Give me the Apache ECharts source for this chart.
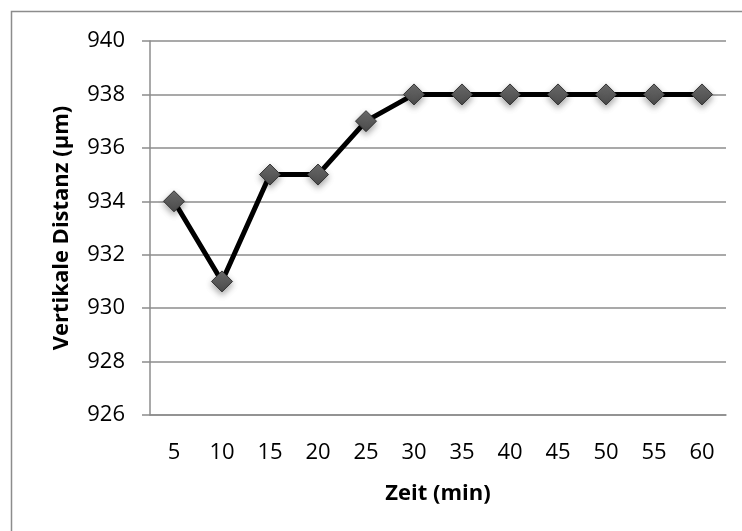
<!DOCTYPE html>
<html>
<head>
<meta charset="utf-8">
<script src="https://cdn.jsdelivr.net/npm/echarts@6/dist/echarts.min.js"></script>
<style>
  html, body { margin: 0; padding: 0; background: #fff; }
  #chart { width: 742px; height: 531px; }
</style>
</head>
<body>
<div id="chart"></div>
<script>
const zeit = ['5', '10', '15', '20', '25', '30', '35', '40', '45', '50', '55', '60'];
const distanz = [934, 931, 935, 935, 937, 938, 938, 938, 938, 938, 938, 938];
const yMin = 926, yMax = 940, yStep = 2;

const font = '"Open Sans", "Noto Sans", sans-serif';
const chart = echarts.init(document.getElementById('chart'), null, { renderer: 'canvas' });

chart.setOption({
  backgroundColor: '#fff',
  animation: false,
  textStyle: { fontFamily: font },
  graphic: [{
    type: 'rect',
    shape: { x: 11.5, y: 11.5, width: 740, height: 530 },
    style: { fill: 'none', stroke: '#8c8c8c', lineWidth: 1.5 },
    silent: true
  }],
  grid: { left: 150, right: 16, top: 41, bottom: 116, containLabel: false },
  xAxis: {
    type: 'category',
    data: zeit,
    boundaryGap: true,
    name: 'Zeit (min)',
    nameLocation: 'middle',
    nameGap: 68,
    nameTextStyle: { fontWeight: 'bold', fontSize: 22, color: '#000', fontFamily: font },
    axisLine: { lineStyle: { color: '#8c8c8c', width: 1.5 } },
    axisTick: { show: false },
    axisLabel: { color: '#000', fontSize: 22, margin: 27, fontFamily: font },
    splitLine: { show: false }
  },
  yAxis: {
    type: 'value',
    min: yMin,
    max: yMax,
    interval: yStep,
    name: 'Vertikale Distanz (µm)',
    nameLocation: 'middle',
    nameGap: 77,
    nameTextStyle: { fontWeight: 'bold', fontSize: 22, color: '#000', fontFamily: font },
    axisLine: { show: true, lineStyle: { color: '#8c8c8c', width: 1.5 } },
    axisTick: { show: true, inside: false, length: 8, lineStyle: { color: '#8c8c8c', width: 1.5 } },
    axisLabel: { color: '#000', fontSize: 22, margin: 25, fontFamily: font },
    splitLine: { show: true, lineStyle: { color: '#8c8c8c', width: 1.5 } }
  },
  series: [{
    type: 'line',
    data: distanz,
    symbol: 'diamond',
    symbolSize: [21, 21],
    lineStyle: { color: '#000', width: 5 },
    itemStyle: {
      color: new echarts.graphic.LinearGradient(0, 0, 0, 1, [
        { offset: 0, color: '#6e6e6e' },
        { offset: 1, color: '#4a4a4a' }
      ]),
      borderColor: '#333',
      borderWidth: 1,
      shadowBlur: 6,
      shadowColor: 'rgba(0,0,0,0.35)',
      shadowOffsetY: 3
    },
    z: 3
  }]
});
</script>
</body>
</html>
